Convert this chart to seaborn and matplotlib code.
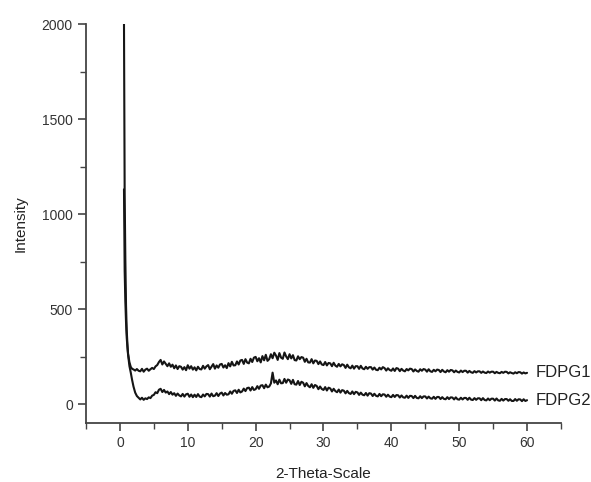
import matplotlib
matplotlib.use("Agg")
import matplotlib.pyplot as plt
from matplotlib.ticker import MultipleLocator
import numpy as np
import pandas as pd
import seaborn as sns

# low-angle part (the sharp peak near 2-theta = 0.6)
two_theta_low = [0.6, 0.65, 0.7, 0.8, 0.9, 1.0, 1.1, 1.2, 1.4, 1.6, 1.8, 2.0, 2.25, 2.5, 2.75]
fdpg1_low = [2000, 1550, 1100, 760, 520, 390, 320, 265, 220, 195, 185, 182, 176, 184, 175]
fdpg2_low = [1130, 900, 700, 540, 430, 350, 300, 260, 200, 165, 126, 92, 60, 42, 33]

# 3 .. 60 in 0.25 steps
two_theta_scan = np.arange(3.0, 60.001, 0.25)
fdpg1_scan = [
    172, 185, 170, 181, 186, 175, 183, 190, 184, 198, 205, 221,
    232, 208, 224, 211, 199, 214, 196, 207, 188, 203, 184, 199,
    196, 181, 194, 178, 204, 186, 199, 181, 193, 177, 196, 184,
    182, 201, 186, 198, 205, 183, 197, 210, 186, 203, 191, 208,
    211, 192, 204, 189, 215, 198, 222, 203, 204, 224, 208, 229,
    232, 211, 236, 218, 214, 238, 221, 244, 248, 225, 241, 219,
    252, 230, 259, 227, 236, 262, 241, 270, 255, 232, 268, 244,
    238, 271, 250, 236, 262, 240, 257, 231, 229, 251, 236, 247,
    244, 222, 238, 219, 218, 236, 214, 229, 227, 210, 224, 208,
    205, 221, 203, 216, 214, 199, 217, 202, 196, 211, 198, 209,
    205, 190, 207, 193, 188, 202, 186, 199, 199, 185, 201, 187,
    183, 196, 185, 194, 194, 181, 192, 180, 178, 191, 182, 194,
    189, 176, 188, 179, 175, 187, 174, 189, 186, 173, 185, 176,
    172, 184, 177, 186, 184, 171, 182, 174, 170, 183, 175, 184,
    181, 170, 183, 172, 169, 180, 172, 181, 179, 168, 180, 171,
    167, 178, 170, 179, 177, 167, 176, 169, 166, 176, 168, 175,
    175, 165, 174, 167, 164, 173, 166, 172, 172, 164, 171, 165,
    163, 171, 165, 170, 170, 162, 169, 164, 162, 169, 164, 170,
    169, 161, 167, 163, 160, 167, 162, 168, 167, 160, 166, 161,
    164,
]
fdpg2_scan = [
    24, 33, 22, 30, 26, 35, 31, 44, 48, 62, 57, 75,
    80, 63, 74, 60, 66, 52, 63, 49, 57, 43, 55, 45,
    40, 53, 39, 51, 54, 38, 50, 36, 49, 37, 52, 39,
    36, 50, 40, 53, 52, 39, 55, 41, 44, 57, 42, 55,
    60, 45, 58, 49, 51, 66, 54, 69, 72, 58, 75, 61,
    66, 81, 68, 84, 86, 71, 89, 74, 78, 94, 80, 97,
    99, 83, 102, 88, 92, 108, 165, 112, 124, 104, 128, 109,
    110, 132, 112, 129, 125, 106, 127, 104, 102, 121, 100, 117,
    112, 93, 110, 95, 88, 104, 85, 100, 95, 78, 92, 79,
    74, 89, 71, 86, 82, 66, 80, 68, 62, 76, 60, 73,
    70, 56, 69, 57, 53, 66, 52, 64, 61, 48, 60, 49,
    46, 58, 44, 57, 55, 42, 54, 43, 40, 53, 41, 51,
    50, 38, 49, 39, 36, 48, 37, 47, 46, 34, 45, 35,
    33, 44, 32, 43, 42, 31, 43, 32, 30, 41, 31, 40,
    40, 29, 39, 30, 28, 38, 27, 37, 37, 26, 36, 27,
    25, 36, 26, 35, 34, 24, 35, 25, 23, 33, 24, 32,
    32, 22, 33, 23, 21, 31, 22, 30, 30, 20, 31, 21,
    19, 29, 20, 28, 28, 18, 29, 19, 17, 27, 18, 26,
    26, 17, 25, 16, 16, 26, 17, 25, 24, 15, 25, 16,
    20,
]

x_all = list(two_theta_low) + list(two_theta_scan)
df = pd.concat([
    pd.DataFrame({"two_theta": x_all, "intensity": fdpg1_low + fdpg1_scan, "sample": "FDPG1"}),
    pd.DataFrame({"two_theta": x_all, "intensity": fdpg2_low + fdpg2_scan, "sample": "FDPG2"}),
])

sns.set_style("ticks")
plt.rcParams["font.family"] = ["Liberation Sans", "DejaVu Sans"]

fig = plt.figure(figsize=(5.91, 4.82), dpi=100)
ax = fig.add_axes([0.1455, 0.1224, 0.8037, 0.8278])

sns.lineplot(
    data=df, x="two_theta", y="intensity", hue="sample",
    palette=["#151515", "#151515"], estimator=None, sort=False,
    linewidth=1.5, legend=False, ax=ax,
)

ax.set_xlim(-5, 65)
ax.set_ylim(-100, 2000)
ax.xaxis.set_major_locator(MultipleLocator(10))
ax.xaxis.set_minor_locator(MultipleLocator(5))
ax.yaxis.set_major_locator(MultipleLocator(500))
ax.yaxis.set_minor_locator(MultipleLocator(250))
ax.set_xticks([0, 10, 20, 30, 40, 50, 60])
ax.tick_params(which="major", length=6, width=1.2, color="#444444",
               labelsize=10, labelcolor="#333333")
ax.tick_params(which="minor", length=4, width=1.0, color="#444444")
for side in ["left", "bottom"]:
    ax.spines[side].set_linewidth(1.3)
    ax.spines[side].set_color("#444444")
sns.despine(ax=ax)

ax.set_xlabel("2-Theta-Scale", fontsize=11, color="#222222", labelpad=12)
ax.set_ylabel("Intensity", fontsize=11, color="#222222", labelpad=10)

ax.text(61.3, fdpg1_scan[-1], "FDPG1", fontsize=12, va="center", color="#222222")
ax.text(61.3, fdpg2_scan[-1], "FDPG2", fontsize=12, va="center", color="#222222")

fig.savefig("out.png", dpi=100)
